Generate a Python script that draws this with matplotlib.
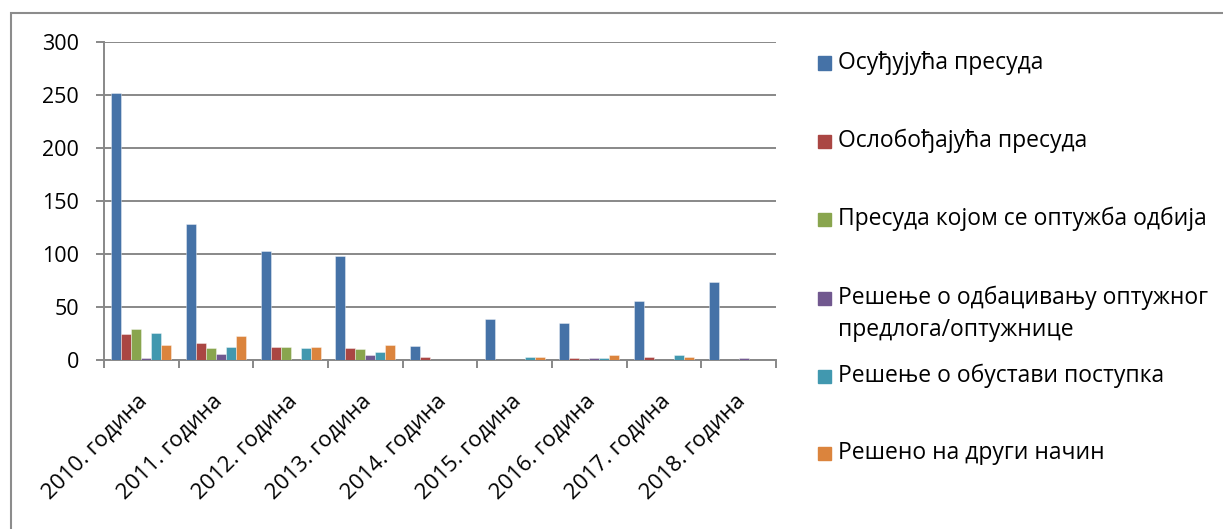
import matplotlib
matplotlib.use("Agg")
import matplotlib.pyplot as plt
from matplotlib.patches import Rectangle
import numpy as np

plt.rcParams['font.family'] = ['Open Sans', 'DejaVu Sans']

years = ["2010. година", "2011. година", "2012. година", "2013. година",
         "2014. година", "2015. година", "2016. година", "2017. година",
         "2018. година"]

series_names = [
    "Осуђујућа пресуда",
    "Ослобођајућа пресуда",
    "Пресуда којом се оптужба одбија",
    "Решење о одбацивању оптужног\nпредлога/оптужнице",
    "Решење о обустави поступка",
    "Решено на други начин",
]

osudjujuca = [252, 128, 102, 98, 13, 38, 34, 55, 73]
oslobadjajuca = [24, 16, 12, 11, 2, 0, 1, 2, 0]
odbijajuca = [29, 11, 12, 10, 0, 0, 0, 0, 0]
odbacivanje = [1, 5, 0, 4, 0, 0, 1, 0, 1]
obustava = [25, 12, 11, 7, 0, 2, 1, 4, 0]
drugi_nacin = [14, 22, 12, 14, 0, 2, 4, 2, 0]

series_values = [osudjujuca, oslobadjajuca, odbijajuca, odbacivanje,
                 obustava, drugi_nacin]
colors = ["#4572A7", "#AA4643", "#89A54E", "#71588F", "#4198AF", "#DB843D"]

W, H = 1223, 529
fig = plt.figure(figsize=(W / 100, H / 100), dpi=100)
ax = fig.add_axes([104 / W, 1 - 359.5 / H, (776 - 104) / W, (359.5 - 41.7) / H])

x = np.arange(len(years))
n = len(series_values)
bw = 1 / (n + 1.5)
for j, (vals, col) in enumerate(zip(series_values, colors)):
    ax.bar(x + (j - (n - 1) / 2) * bw, vals, width=bw, color=col,
           edgecolor=(1, 1, 1, 0.45), linewidth=0.6, zorder=3)

grid_col = "#888888"
ax.set_xlim(-0.5, len(years) - 0.5)
ax.set_ylim(0, 300)
ax.set_yticks(range(0, 301, 50))
ax.yaxis.grid(True, color=grid_col, linewidth=1.4, zorder=0)
for s in ("top", "right"):
    ax.spines[s].set_visible(False)
for s in ("left", "bottom"):
    ax.spines[s].set_color(grid_col)
    ax.spines[s].set_linewidth(1.4)

ax.set_xticks(np.arange(len(years) + 1) - 0.5)
ax.set_xticklabels([])
ax.tick_params(axis="x", length=6, width=1.4, color=grid_col)
ax.tick_params(axis="y", length=6, width=1.4, color=grid_col,
               labelsize=15.5, pad=12)

for i, lab in enumerate(years):
    ax.annotate(lab, xy=(i, 0), xycoords=("data", "axes fraction"),
                xytext=(3, -38), textcoords="offset pixels",
                rotation=45, ha="right", va="center", rotation_mode="anchor",
                fontsize=16)

# legend drawn as a column of swatches and labels
leg_fs = 16.5
leg_y = [63, 141, 219, 298, 376, 453]
for name, col, yy in zip(series_names, colors, leg_y):
    fig.patches.append(Rectangle((818 / W, 1 - (yy + 6.5) / H), 13 / W, 13 / H,
                                 transform=fig.transFigure, color=col))
    lines = name.split("\n")
    for k, line in enumerate(lines):
        fig.text(838 / W, 1 - (yy + 32 * k) / H, line, fontsize=leg_fs,
                 ha="left", va="center", transform=fig.transFigure)

# chart frame
fig.patches.append(Rectangle((11 / W, -0.1), 1.2, 1 - 13 / H + 0.1,
                             transform=fig.transFigure, fill=False,
                             edgecolor="#8c8c8c", linewidth=1.5))

fig.savefig("out.png", dpi=100)
